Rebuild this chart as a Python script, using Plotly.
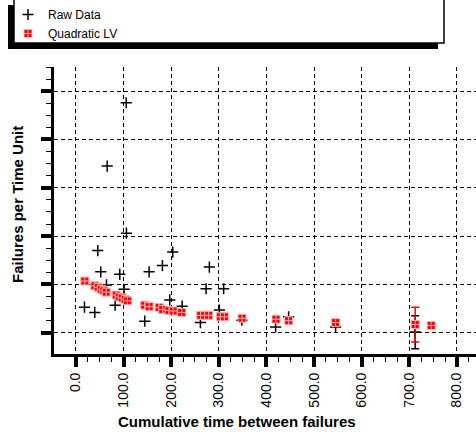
import plotly.graph_objects as go

# ---- data ----
raw_x = [105.5, 65.7, 106.1, 45.9, 52.2, 92.1, 101.3, 64.2, 18.0, 39.6, 82.4,
         144.5, 153.7, 181.6, 203.3, 197.0, 280.2, 273.3, 310.2, 223.0, 261.4,
         301.2, 348.4, 419.3, 446.6, 545.2, 712.3]
raw_y = [5.76, 4.45, 3.06, 2.70, 2.26, 2.21, 1.90, 1.99, 1.53, 1.42, 1.57,
         1.24, 2.26, 2.39, 2.67, 1.68, 2.36, 1.91, 1.91, 1.55, 1.21,
         1.47, 1.26, 1.12, 1.33, 1.12, 1.01]

fit_x = [18.7, 39.6, 46.8, 53.1, 58.5, 63.6, 84.5, 90.8, 97.1, 103.4, 108.2,
         144.5, 153.7, 174.7, 182.3, 195.7, 204.1, 222.1, 262.0, 270.4, 278.8,
         303.3, 311.7, 348.8, 420.1, 446.6, 545.2, 712.3, 745.9]
fit_y = [2.07, 1.97, 1.94, 1.90, 1.87, 1.84, 1.78, 1.74, 1.72, 1.69, 1.66,
         1.57, 1.54, 1.52, 1.48, 1.46, 1.45, 1.42, 1.36, 1.36, 1.36,
         1.33, 1.33, 1.30, 1.28, 1.25, 1.21, 1.17, 1.15]

# single point carrying error bars
err_x = [712.3]
raw_err_y = [1.01]
raw_err = [0.34]
fit_err_y = [1.17]
fit_err = [0.36]

x_ticks = [0, 100, 200, 300, 400, 500, 600, 700, 800]
x_ticklabels = ["0.0", "100.0", "200.0", "300.0", "400.0", "500.0", "600.0", "700.0", "800.0"]
y_ticks = [1, 2, 3, 4, 5, 6]

FONT = "Arial, Liberation Sans, sans-serif"
W, H = 476, 435

fig = go.Figure()

fig.add_trace(go.Scatter(
    x=raw_x, y=raw_y, mode="markers", name="Raw Data",
    marker=dict(symbol="cross-thin", size=8, color="black",
                line=dict(color="black", width=1.5)),
))
fig.add_trace(go.Scatter(
    x=err_x, y=raw_err_y, mode="markers", showlegend=False,
    marker=dict(symbol="cross-thin", size=8, color="black",
                line=dict(color="black", width=1.5)),
    error_y=dict(type="data", array=raw_err, color="black", thickness=1.5, width=4),
))
fig.add_trace(go.Scatter(
    x=fit_x, y=fit_y, mode="markers", name="Quadratic LV",
    marker=dict(symbol="square-cross", size=8, color="red",
                line=dict(color="#ffb4b4", width=1)),
))
fig.add_trace(go.Scatter(
    x=err_x, y=fit_err_y, mode="markers", showlegend=False,
    marker=dict(symbol="square-cross", size=8, color="red",
                line=dict(color="#ffb4b4", width=1)),
    error_y=dict(type="data", array=fit_err, color="red", thickness=1.5, width=4),
))

x_minor = [v for v in range(25, 850, 25) if v % 100 != 0]
y_minor = [1 + 0.25 * k for k in range(0, 23) if k % 4 != 0]

fig.update_layout(
    width=W, height=H,
    margin=dict(l=54, r=0, t=67, b=81, pad=0, autoexpand=False),
    paper_bgcolor="white", plot_bgcolor="white",
    font=dict(family=FONT, color="black"),
    showlegend=True,
    legend=dict(
        xref="container", yref="container",
        x=8 / W, y=1 + 1 / H, xanchor="left", yanchor="top",
        bgcolor="rgba(0,0,0,0)", borderwidth=0,
        font=dict(family=FONT, size=12, color="black"),
        itemwidth=30, tracegroupgap=0,
    ),
    xaxis=dict(
        range=[-46, 840], tickmode="array", tickvals=x_ticks, ticktext=x_ticklabels,
        tickangle=-90, tickfont=dict(family=FONT, size=14, color="black"),
        ticks="outside", ticklen=10, tickwidth=4, tickcolor="black",
        showline=True, linewidth=3, linecolor="black",
        showgrid=True, gridcolor="black", gridwidth=1, griddash="4px,3px",
        zeroline=False, automargin=False,
        minor=dict(tickmode="array", tickvals=x_minor, ticks="outside",
                   ticklen=5, tickwidth=1, tickcolor="black", showgrid=False),
    ),
    yaxis=dict(
        range=[0.56, 6.5], tickmode="array", tickvals=y_ticks, showticklabels=False,
        ticks="outside", ticklen=10, tickwidth=4, tickcolor="black",
        showline=True, linewidth=3, linecolor="black",
        showgrid=True, gridcolor="black", gridwidth=1, griddash="4px,3px",
        zeroline=False, automargin=False,
        minor=dict(tickmode="array", tickvals=y_minor, ticks="outside",
                   ticklen=5, tickwidth=1, tickcolor="black", showgrid=False),
    ),
    shapes=[
        # legend box shadow
        dict(type="rect", xref="paper", yref="paper",
             x0=(8 - 54) / 422, x1=(438 - 54) / 422,
             y0=(354 - 49) / 287, y1=(354 - 5) / 287,
             fillcolor="black", line=dict(color="black", width=0), layer="above"),
        # legend box
        dict(type="rect", xref="paper", yref="paper",
             x0=(14 - 54) / 422, x1=(444 - 54) / 422,
             y0=(354 - 43) / 287, y1=(354 + 1) / 287,
             fillcolor="white", line=dict(color="black", width=1.5), layer="above"),
    ],
    annotations=[
        dict(text="<b>Failures per Time Unit</b>", xref="paper", yref="paper",
             x=(17 - 54) / 422, y=(354 - 205) / 287, textangle=-90,
             showarrow=False, xanchor="center", yanchor="middle",
             font=dict(family=FONT, size=15, color="black")),
        dict(text="<b>Cumulative time between failures</b>", xref="paper", yref="paper",
             x=(237 - 54) / 422, y=(354 - 421) / 287,
             showarrow=False, xanchor="center", yanchor="middle",
             font=dict(family=FONT, size=15, color="black")),
    ],
)

fig.write_html(
    "out.html",
    config={"displayModeBar": False},
    post_script="document.body.style.margin='0';document.body.style.overflow='hidden';",
)
